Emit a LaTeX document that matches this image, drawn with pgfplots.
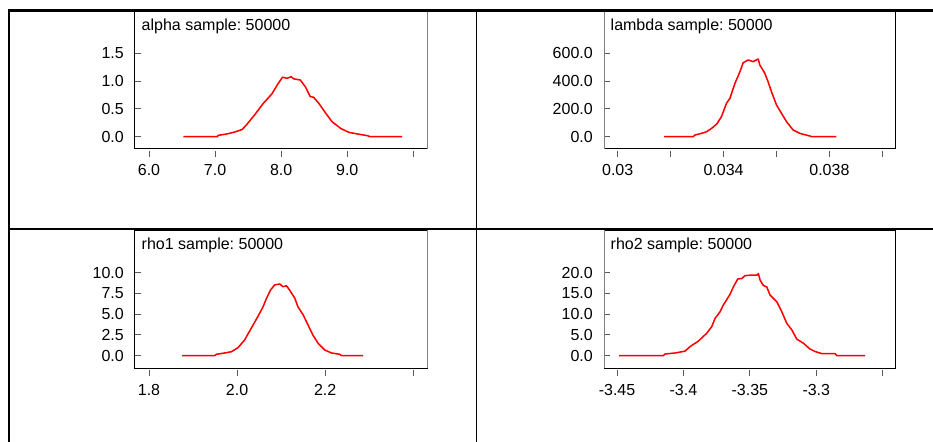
\documentclass[border=0pt]{standalone}
\usepackage{fontspec}
\setmainfont{Liberation Sans}
\usepackage{pgfplots}
\pgfplotsset{compat=1.18}
\frenchspacing

\pgfplotsset{
  wb/.style={
    scale only axis, anchor=south west, clip=false,
    font=\fontsize{12}{14}\selectfont,
    axis line style={line width=0.75pt, black},
    tick style={line width=0.75pt, black!65},
    major tick length=4.5pt,
    xtick pos=left, ytick pos=left,
    scaled x ticks=false, scaled y ticks=false,
    x tick style={yshift=-6pt},
    xticklabel style={yshift=-8.2pt},
    yticklabel style={xshift=-4.9pt},
    every axis title shift=0pt,
    title style={at={(0,1)}, anchor=north west, xshift=1.5pt, yshift=-2.6pt},
  },
  dens/.style={red, line width=1.15pt, line join=round},
}

\begin{document}
\begin{tikzpicture}[x=0.75pt, y=0.75pt]
\path[use as bounding box, fill=white] (0,0) rectangle (933,442);
\coordinate (p1) at (135,293);
\coordinate (p2) at (604,293);
\coordinate (p3) at (135,73.7);
\coordinate (p4) at (604,73.7);

% alpha
\begin{axis}[wb, at={(p1)}, width=219pt, height=103.5pt,
  xmin=5.788, xmax=10.207, ymin=-0.221, ymax=2.261,
  xtick={6,7,8,9,10}, xticklabels={6.0,7.0,8.0,9.0,},
  ytick={0,0.5,1,1.5}, yticklabels={0.0,0.5,1.0,1.5},
  title={alpha sample: 50000}]
\addplot[dens] coordinates {
 (6.52,0) (7.03,0) (7.05,0.025) (7.18,0.05) (7.30,0.085) (7.41,0.13)
 (7.48,0.22) (7.61,0.41) (7.73,0.60) (7.86,0.77) (7.94,0.93) (8.02,1.07)
 (8.09,1.05) (8.15,1.08) (8.19,1.04) (8.29,1.02) (8.37,0.89) (8.44,0.72)
 (8.49,0.71) (8.57,0.60) (8.67,0.43) (8.77,0.27) (8.90,0.15) (9.02,0.08)
 (9.15,0.05) (9.30,0.02) (9.35,0) (9.83,0)};
\draw[black!50, line width=0.75pt] (rel axis cs:1,0) -- (rel axis cs:1,1);
\end{axis}

% lambda
\begin{axis}[wb, at={(p2)}, width=218.8pt, height=103.5pt,
  xmin=0.029482, xmax=0.040506, ymin=-88.5, ymax=904.3,
  xtick={0.030,0.032,0.034,0.036,0.038,0.040},
  xticklabels={0.03,,0.034,,0.038,},
  ytick={0,200,400,600}, yticklabels={0.0,200.0,400.0,600.0},
  title={lambda sample: 50000}]
\addplot[dens] coordinates {
 (0.03175,0) (0.03285,0) (0.03292,12) (0.03317,24) (0.03336,36) (0.03355,60)
 (0.03374,91) (0.03392,144) (0.03411,240) (0.03424,276) (0.03443,384)
 (0.03462,468) (0.03474,532) (0.03493,552) (0.03512,540) (0.03531,559)
 (0.03537,516) (0.03556,456) (0.03568,396) (0.03581,324) (0.03600,228)
 (0.03619,168) (0.03638,108) (0.03663,48) (0.03688,24) (0.03726,5)
 (0.03732,0) (0.03826,0)};
\draw[black!50, line width=0.75pt] (rel axis cs:0,0) -- (rel axis cs:0,1);
\end{axis}

% rho1
\begin{axis}[wb, at={(p3)}, width=219pt, height=103.7pt,
  xmin=1.7682, xmax=2.4311, ymin=-1.518, ymax=15.14,
  xtick={1.8,2.0,2.2,2.4}, xticklabels={1.8,2.0,2.2,},
  ytick={0,2.5,5,7.5,10}, yticklabels={0.0,2.5,5.0,7.5,10.0},
  title={rho1 sample: 50000}]
\addplot[dens] coordinates {
 (1.875,0) (1.949,0) (1.953,0.17) (1.972,0.33) (1.987,0.48) (2.002,0.96)
 (2.017,1.89) (2.032,3.30) (2.047,4.70) (2.059,5.90) (2.066,6.83)
 (2.076,7.92) (2.085,8.52) (2.097,8.64) (2.104,8.31) (2.112,8.43)
 (2.119,7.92) (2.131,6.92) (2.138,5.90) (2.150,4.90) (2.161,3.70)
 (2.172,2.49) (2.184,1.49) (2.199,0.69) (2.214,0.33) (2.233,0.17)
 (2.237,0) (2.286,0)};
\draw[black!50, line width=0.75pt] (rel axis cs:1,0) -- (rel axis cs:1,1);
\end{axis}

% rho2
\begin{axis}[wb, at={(p4)}, width=218.8pt, height=103.7pt,
  xmin=-3.4598, xmax=-3.2402, ymin=-3.04, ymax=30.29,
  xtick={-3.45,-3.40,-3.35,-3.30,-3.25},
  xticklabels={-3.45,-3.4,-3.35,-3.3,},
  ytick={0,5,10,15,20}, yticklabels={0.0,5.0,10.0,15.0,20.0},
  title={rho2 sample: 50000}]
\addplot[dens] coordinates {
 (-3.4485,0) (-3.4151,0) (-3.4139,0.4) (-3.4063,0.65) (-3.3988,1.1)
 (-3.3950,2.2) (-3.3888,3.5) (-3.3825,5.4) (-3.3787,7.0) (-3.3762,9.0)
 (-3.3724,10.6) (-3.3700,12.2) (-3.3649,14.8) (-3.3624,16.6) (-3.3591,18.5)
 (-3.3561,18.6) (-3.3536,19.3) (-3.3498,19.4) (-3.3448,19.4) (-3.3436,19.8)
 (-3.3423,18.2) (-3.3398,16.9) (-3.3373,16.6) (-3.3348,14.6) (-3.3297,13.0)
 (-3.3260,10.6) (-3.3222,7.8) (-3.3184,6.2) (-3.3147,4.0) (-3.3097,3.0)
 (-3.3047,1.6) (-3.3009,1.0) (-3.2959,0.5) (-3.2858,0.5) (-3.2846,0)
 (-3.2633,0)};
\draw[black!50, line width=0.75pt] (rel axis cs:0,0) -- (rel axis cs:0,1);
\end{axis}

% table grid
\draw[line width=2pt] (8,431.3) -- (933,431.3);
\draw[line width=1.5pt] (8,212.7) -- (933,212.7);
\draw[line width=1.5pt] (9,0) -- (9,432.5);
\draw[line width=0.8pt] (476.7,0) -- (476.7,432.5);
\end{tikzpicture}
\end{document}
